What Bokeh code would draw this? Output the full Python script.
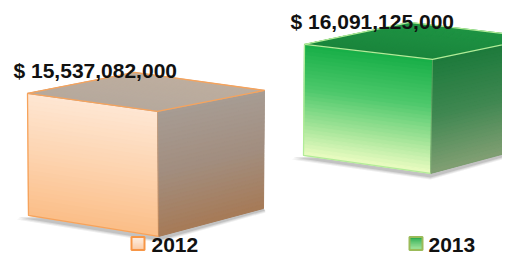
import numpy as np
from bokeh.plotting import figure
from bokeh.models import Range1d
from bokeh.embed import file_html
from bokeh.resources import INLINE
from bokeh.core.properties import value

# ---------------- data ----------------
years = ["2012", "2013"]
totals = [15537082000, 16091125000]

# ---------------- layout / style ----------------
W, H = 502, 256
K = 88.45            # screen px per billion $
Y0 = 1467.2          # screen-y origin of the value scale


def scr_to_data_y(Y):
    return (Y0 - Y) / K


X_FIRST, X_STEP = 27, 277

# per cube shape in px offsets from front-top-left corner (dx, dy-down)
shapes = [
    dict(TR=(130, 18), BR=(131, 143), BL=(1, 122), ST=(107, -21), SB=(105, -28)),
    dict(TR=(128, 15), BR=(126, 129), BL=(-1, 111), ST=(105, -22), SB=(105, -28)),
]
styles = [
    dict(front=[(0, "#FEE7D4"), (0.5, "#FDD4B0"), (1, "#FBBE88")],
         side=[(0, "#A79C94"), (0.5, "#A28E7F"), (1, "#A67A57")],
         top=[(0, "#BEAE9F"), (1, "#B6A99D")],
         edge="#F6A35C"),
    dict(front=[(0, "#16AE46"), (0.4, "#4CC86B"), (0.75, "#A8E69B"), (1, "#EBFCC2")],
         side=[(0, "#1C7A3B"), (0.5, "#3F8751"), (1, "#819F73")],
         top=[(0, "#1F9444"), (1, "#1A853C")],
         edge="#B2EC98"),
]
legend_styles = [
    dict(border="#F79646", fill=[(0, "#FEEEE2"), (1, "#FBC9A2")], sq_x=131, tx=151),
    dict(border="#9BBB59", fill=[(0, "#1EA746"), (1, "#A4E69C")], sq_x=409, tx=428),
]


def hex2rgb(h):
    h = h.lstrip("#")
    return np.array([int(h[i:i + 2], 16) for i in (0, 2, 4)], dtype=float)


def grad(stops, t):
    for (t0, c0), (t1, c1) in zip(stops[:-1], stops[1:]):
        if t <= t1:
            f = 0 if t1 == t0 else (t - t0) / (t1 - t0)
            c = hex2rgb(c0) * (1 - f) + hex2rgb(c1) * f
            return "#%02x%02x%02x" % tuple(int(round(v)) for v in c)
    return stops[-1][1]


def lerp(a, b, t):
    return (a[0] + (b[0] - a[0]) * t, a[1] + (b[1] - a[1]) * t)


def strips(A, B, C, D, stops, n=30):
    """quad A(top-left) B(top-right) C(bottom-right) D(bottom-left); gradient A->D"""
    xs, ys, cs = [], [], []
    for i in range(n):
        t0, t1 = i / n, (i + 1) / n
        p1, p2 = lerp(A, D, t0), lerp(B, C, t0)
        p3, p4 = lerp(B, C, t1), lerp(A, D, t1)
        xs.append([p1[0], p2[0], p3[0], p4[0]])
        ys.append([p1[1], p2[1], p3[1], p4[1]])
        cs.append(grad(stops, (t0 + t1) / 2))
    return xs, ys, cs


p = figure(width=W, height=H, output_backend="svg", toolbar_location=None,
           x_range=Range1d(0, W),
           y_range=Range1d(scr_to_data_y(H), scr_to_data_y(0)),
           x_axis_type=None, y_axis_type=None, min_border=0)
p.grid.visible = False
p.outline_line_color = None
p.background_fill_color = "white"
p.border_fill_color = "white"

for i, (yr, tot) in enumerate(zip(years, totals)):
    sh, st = shapes[i], styles[i]
    x0 = X_FIRST + X_STEP * i
    top = tot / 1e9

    def pt(dx, dy):
        return (x0 + dx, top - dy / K)

    TL = pt(0, 0)
    TR = pt(*sh["TR"])
    BR = pt(*sh["BR"])
    BL = pt(*sh["BL"])
    SBT = pt(sh["TR"][0] + sh["ST"][0], sh["TR"][1] + sh["ST"][1])
    SBB = pt(sh["BR"][0] + sh["SB"][0], sh["BR"][1] + sh["SB"][1])
    TBL = pt(sh["ST"][0], sh["ST"][1])

    # soft shadow under the cube
    for k, a in enumerate([0.10, 0.12, 0.18]):
        g = 3 - k
        shx = [BL[0] - 9 - g, BR[0], SBB[0] + 2, SBB[0]]
        shy = [BL[1] - (1 + g) / K, BR[1] - (3 + g) / K, SBB[1] - (1 + g) / K, SBB[1]]
        p.patch(shx, shy, fill_color="#555555", fill_alpha=a, line_color=None)

    # faces
    for A, B, C, D, key in [(TL, TR, BR, BL, "front"),
                            (TR, SBT, SBB, BR, "side"),
                            (TBL, SBT, TR, TL, "top")]:
        p.patch([A[0], B[0], C[0], D[0]], [A[1], B[1], C[1], D[1]],
                fill_color=grad(st[key], 0.5), line_color=None)
        xs, ys, cs = strips(A, B, C, D, st[key])
        p.patches(xs, ys, fill_color=cs, line_color=cs, line_width=1.0)

    # edges
    p.multi_line([[TL[0], TR[0], SBT[0]], [TL[0], BL[0], BR[0]], [TL[0], TBL[0], SBT[0]]],
                 [[TL[1], TR[1], SBT[1]], [TL[1], BL[1], BR[1]], [TL[1], TBL[1], SBT[1]]],
                 line_color=st["edge"], line_width=1.3)
    p.line([TR[0], BR[0]], [TR[1], BR[1]], line_color=st["edge"], line_width=0.6, line_alpha=0.6)

    # value label
    lx, ly = pt(-14, -23)
    p.text([lx], [ly], text=["$ {:,}".format(tot)], text_font=value("Liberation Sans"),
           text_font_style="bold", text_font_size="21px", text_color="#111111",
           text_align="left", text_baseline="alphabetic")

    # legend
    ls = legend_styles[i]
    sx0, sx1 = ls["sq_x"], ls["sq_x"] + 13
    sy0, sy1 = scr_to_data_y(236.5), scr_to_data_y(249.5)
    xs, ys, cs = strips((sx0, sy0), (sx1, sy0), (sx1, sy1), (sx0, sy1), ls["fill"], n=12)
    p.patches(xs, ys, fill_color=cs, line_color=cs, line_width=0.5)
    p.patch([sx0, sx1, sx1, sx0], [sy0, sy0, sy1, sy1], fill_color=None,
            line_color=ls["border"], line_width=2)
    p.text([ls["tx"]], [scr_to_data_y(251)], text=[yr], text_font=value("Liberation Sans"),
           text_font_style="bold", text_font_size="21px", text_color="#111111",
           text_align="left", text_baseline="bottom")

open("out.html", "w").write(file_html(p, INLINE))
